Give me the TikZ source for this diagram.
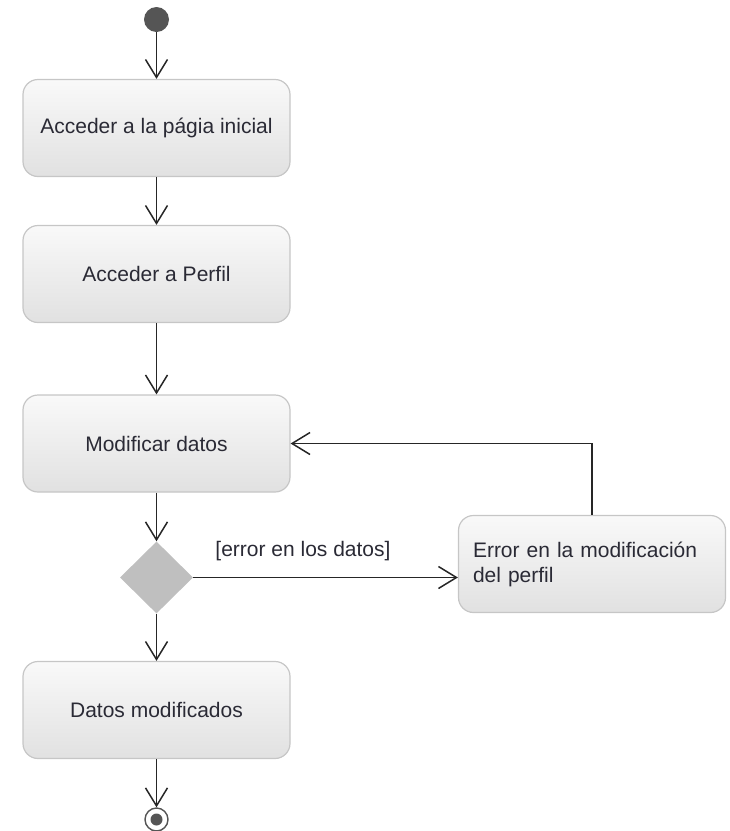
\documentclass[tikz,border=0pt]{standalone}
\usepackage{fontspec}
\setmainfont{Liberation Sans}
\usetikzlibrary{arrows.meta,shapes.geometric}

\definecolor{boxtop}{HTML}{F9F9F9}
\definecolor{boxbot}{HTML}{E1E1E1}
\definecolor{boxline}{HTML}{C6C6C6}
\definecolor{ink}{HTML}{2A2A35}
\definecolor{wire}{HTML}{262626}
\definecolor{dot}{HTML}{555555}

\tikzset{
  act/.style={rectangle, rounded corners=15pt, draw=boxline, line width=1.2pt,
    top color=boxtop, bottom color=boxbot,
    minimum width=267pt, minimum height=97pt, inner sep=0pt,
    font=\fontsize{21}{25}\selectfont, text=ink},
  flow/.style={draw=wire, line width=1.5pt,
    -{Straight Barb[length=18pt,width=22pt,line width=1.5pt]}},
  decision/.style={diamond, fill=black!25, inner sep=0pt,
    minimum width=73pt, minimum height=72pt},
}

\begin{document}
\begin{tikzpicture}[x=1pt,y=-1pt]
  \useasboundingbox (0,0) rectangle (730,831);

  % start and end markers
  \node[circle, fill=dot, minimum size=25pt, inner sep=0pt] (start) at (156.5,19.5) {};
  \node[circle, draw=dot, fill=white, line width=1.4pt, minimum size=23pt, inner sep=0pt] (stop) at (156.5,819.5) {};
  \fill[dot] (stop.center) circle (6pt);

  % activities
  \node[act] (home)   at (156.5,128)   {Acceder a la págia inicial};
  \node[act] (perfil) at (156.5,274)   {Acceder a Perfil};
  \node[act] (modif)  at (156.5,443.5) {Modificar datos};
  \node[act] (done)   at (156.5,710)   {Datos modificados};
  \node[act, text width=238pt, align=left] (err) at (592,564)
       {Error en la modificación\\del perfil};

  % decision
  \node[decision] (dec) at (156.5,577.5) {};
  \node[font=\fontsize{21}{25}\selectfont, text=ink, inner sep=0pt] (guard) at (303,551)
       {[error en los datos]};

  % flows
  \draw[flow] (start) -- (home);
  \draw[flow] (home) -- (perfil);
  \draw[flow] (perfil) -- (modif);
  \draw[flow] (modif) -- (dec);
  \draw[flow] (dec) -- (done);
  \draw[flow] (done) -- (stop);
  \draw[flow] (dec.east) -- (dec.east -| err.west);
  \draw[flow] (err.north) |- (modif.east);
\end{tikzpicture}
\end{document}
